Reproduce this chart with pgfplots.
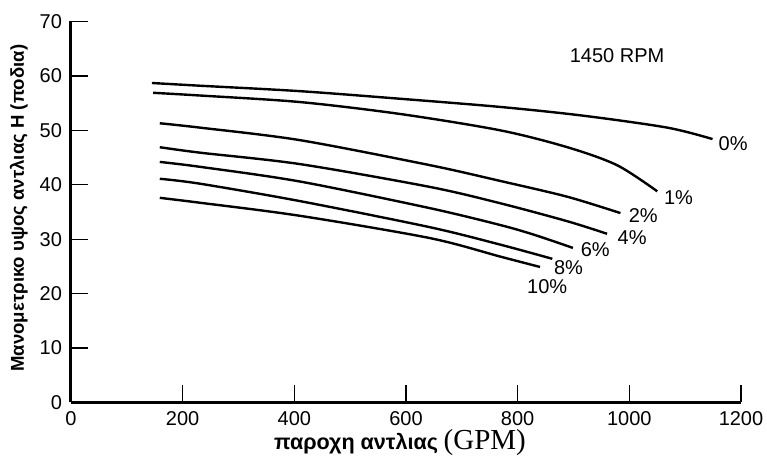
\documentclass[border=0pt]{standalone}
\usepackage{fontspec}
\setmainfont{Liberation Sans}
\newfontfamily\seriffont{Liberation Serif}
\usepackage{pgfplots}
\pgfplotsset{compat=1.18}
\pgfplotsset{curve/.style={black, line width=1.2pt, smooth, mark=none}}

\begin{document}
\begin{tikzpicture}
% page size (axis box origin at 0,0)
\useasboundingbox (-35.5pt,-33.25pt) rectangle (348pt,201.25pt);
\begin{axis}[
    scale only axis,
    width=335pt, height=190.5pt,
    xmin=0, xmax=1200, ymin=0, ymax=70,
    axis lines*=left,
    axis line style={line width=1.5pt},
    xtick={0,200,...,1200}, ytick={0,10,...,70},
    tick align=inside,
    major tick length=8.5pt,
    tick style={line width=0.6pt, black},
    /pgf/number format/assume math mode=true,
    /pgf/number format/1000 sep={},
    tick label style={font=\fontsize{10}{12}\selectfont},
    xticklabel style={yshift=-1pt},
    yticklabel style={xshift=-1pt},
    xlabel={\textbf{\fontsize{10.8}{12}\selectfont παροχη αντλιας} {\seriffont\fontsize{14.5}{16}\selectfont(GPM)}},
    xlabel style={at={(axis description cs:0.491,-0.105)}, anchor=center},
    ylabel={\textbf{Μανομετρικο υψος αντλιας H (ποδια)}},
    ylabel style={at={(axis description cs:-0.078,0.51)}, anchor=center, rotate=0, font=\fontsize{9.3}{11}\selectfont},
    clip=false,
  ]
  % 0%
  \addplot[curve] coordinates {(145,58.7) (231,58.2) (410,57.2) (590,55.8) (769,54.3) (917,52.7) (1068,50.5) (1149,48.4)};
  % 1%
  \addplot[curve] coordinates {(147,56.9) (231,56.4) (410,55.2) (590,53.0) (769,50.0) (889,46.9) (978,43.6) (1050,38.8)};
  % 2%
  \addplot[curve] coordinates {(159,51.3) (231,50.5) (410,48.2) (643,43.6) (769,40.7) (889,37.8) (984,34.8)};
  % 4%
  \addplot[curve] coordinates {(159,46.9) (231,45.9) (410,43.8) (643,39.6) (769,36.6) (889,33.3) (960,31.0)};
  % 6%
  \addplot[curve] coordinates {(159,44.2) (231,43.3) (410,40.6) (643,35.7) (769,32.6) (830,30.8) (899,28.4)};
  % 8%
  \addplot[curve] coordinates {(159,41.1) (231,40.2) (410,37.0) (643,32.2) (769,29.0) (862,26.4)};
  % 10%
  \addplot[curve] coordinates {(159,37.6) (231,36.7) (410,34.3) (643,30.2) (769,26.8) (840,24.9)};

  \begin{scope}[every node/.style={font=\fontsize{10}{12}\selectfont, inner sep=0pt}]
    \node at (axis cs:1186,47.6) {0\%};
    \node at (axis cs:1088,37.7) {1\%};
    \node at (axis cs:1025,34.4) {2\%};
    \node at (axis cs:1005,30.2) {4\%};
    \node at (axis cs:939,28.0) {6\%};
    \node at (axis cs:891,24.7) {8\%};
    \node at (axis cs:853,21.2) {10\%};
    \node at (axis cs:978,63.8) {1450 RPM};
  \end{scope}
\end{axis}
\end{tikzpicture}
\end{document}
